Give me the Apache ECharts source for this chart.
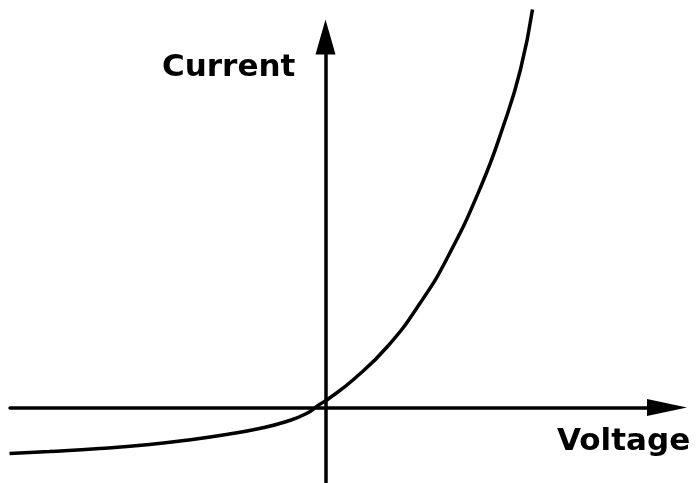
<!DOCTYPE html>
<html>
<head>
<meta charset="utf-8">
<script src="https://cdn.jsdelivr.net/npm/echarts@6/dist/echarts.min.js"></script>
<style>
  html, body { margin: 0; padding: 0; background: #fff; }
  #main { width: 700px; height: 483px; }
</style>
</head>
<body>
<div id="main"></div>
<script>
// I-V curve (arbitrary units)
var voltage = [-3.16, -2.76, -2.26, -1.76, -1.33, -0.99, -0.66, -0.39, -0.19, -0.06,
  0.02, 0.28, 0.62, 0.95, 1.22, 1.55, 1.78, 1.95, 2.07];
var current = [-0.46, -0.44, -0.41, -0.37, -0.32, -0.27, -0.21, -0.14, -0.06, 0.03,
  0.08, 0.28, 0.61, 1.05, 1.50, 2.20, 2.82, 3.38, 3.98];

var xName = 'Voltage';
var yName = 'Current';

var points = voltage.map(function (v, i) { return [v, current[i]]; });

var chart = echarts.init(document.getElementById('main'), null, { renderer: 'canvas' });

var option = {
  animation: false,
  backgroundColor: '#fff',
  grid: { left: 10, right: 33, top: 37, bottom: 1 },
  xAxis: {
    type: 'value',
    min: -3.155,
    max: 3.415,
    axisLine: {
      onZero: true,
      symbol: ['none', 'triangle'],
      symbolSize: [17, 40],
      lineStyle: { color: '#000', width: 3.5 }
    },
    axisTick: { show: false },
    axisLabel: { show: false },
    splitLine: { show: false }
  },
  yAxis: {
    type: 'value',
    min: -0.745,
    max: 3.705,
    axisLine: {
      onZero: true,
      symbol: ['none', 'triangle'],
      symbolSize: [20, 35],
      lineStyle: { color: '#000', width: 3.5 }
    },
    axisTick: { show: false },
    axisLabel: { show: false },
    splitLine: { show: false }
  },
  graphic: [
    {
      type: 'text',
      left: 162, top: 52,
      style: { text: yName, font: 'bold 31px "DejaVu Sans"', fill: '#000' }
    },
    {
      type: 'text',
      left: 557, top: 426,
      style: { text: xName, font: 'bold 31px "DejaVu Sans"', fill: '#000' }
    }
  ],
  series: [{
    type: 'line',
    data: points,
    smooth: 0.5,
    showSymbol: false,
    clip: false,
    lineStyle: { color: '#000', width: 3.5 }
  }]
};

chart.setOption(option);
</script>
</body>
</html>
